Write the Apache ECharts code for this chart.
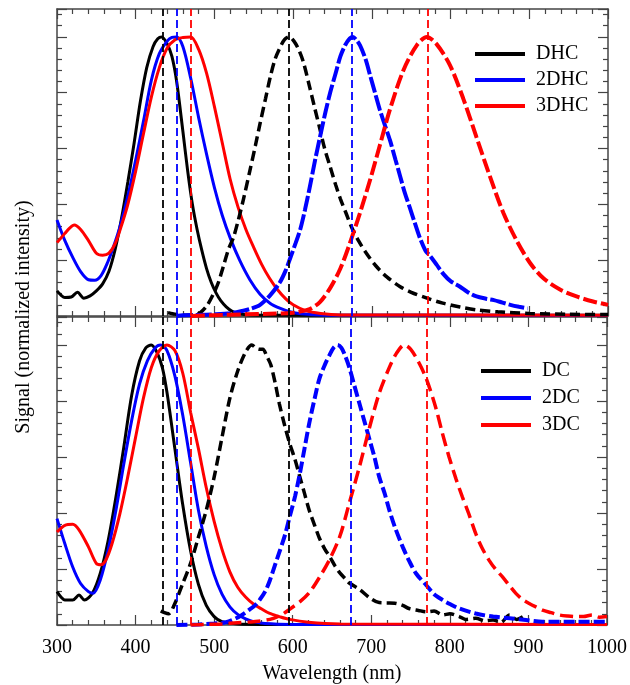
<!DOCTYPE html>
<html>
<head>
<meta charset="utf-8">
<script src="https://cdn.jsdelivr.net/npm/echarts@6/dist/echarts.min.js"></script>
<style>html,body{margin:0;padding:0;background:#fff}#c{width:630px;height:685px}</style>
</head>
<body>
<div id="c"></div>
<script>
// ---- axis ticks ----
const xTicks = [300, 400, 500, 600, 700, 800, 900, 1000];
// ---- vertical reference lines (nm) ----
const refLines = [434, 452, 470, 595, 674, 771];
const refColors = ['#000000', '#0000ff', '#ff0000', '#000000', '#0000ff', '#ff0000'];

// ---- TOP PANEL: absorption (solid) ----
const DHC_abs = [[300,0.09],[305,0.075],[310,0.066],[318,0.068],[326,0.085],[334,0.064],[342,0.072],[350,0.09],[358,0.115],[366,0.16],[374,0.24],[382,0.35],[390,0.48],[398,0.62],[406,0.77],[414,0.89],[422,0.965],[428,0.993],[433,1.0],[440,0.975],[446,0.93],[452,0.84],[460,0.66],[466,0.52],[472,0.4],[478,0.31],[484,0.235],[490,0.17],[496,0.12],[502,0.083],[508,0.055],[515,0.033],[522,0.018],[530,0.009],[545,0.004],[600,0.003],[800,0.003],[1000,0.003]];
const DHC2_abs = [[300,0.344],[310,0.27],[320,0.21],[330,0.159],[340,0.13],[348,0.128],[356,0.145],[364,0.19],[372,0.25],[380,0.32],[390,0.43],[400,0.56],[410,0.70],[420,0.846],[430,0.94],[440,0.985],[446,0.998],[452,1.0],[460,0.965],[470,0.85],[480,0.71],[490,0.58],[500,0.46],[510,0.36],[520,0.28],[532,0.2],[545,0.13],[558,0.078],[571,0.045],[583,0.028],[596,0.015],[610,0.008],[640,0.003],[1000,0.002]];
const DHC3_abs = [[300,0.263],[310,0.296],[316,0.315],[322,0.326],[330,0.31],[340,0.27],[350,0.225],[358,0.218],[366,0.225],[374,0.26],[382,0.325],[390,0.40],[400,0.52],[410,0.655],[420,0.786],[430,0.89],[440,0.96],[450,0.99],[460,0.998],[470,1.0],[480,0.955],[490,0.87],[500,0.75],[510,0.62],[520,0.49],[530,0.39],[540,0.31],[550,0.245],[560,0.185],[570,0.135],[580,0.095],[590,0.063],[600,0.04],[615,0.02],[635,0.009],[660,0.004],[1000,0.003]];

// ---- TOP PANEL: emission (dashed) ----
const DHC_em = [[441,0.012],[447,0.008],[460,0.003],[475,0.004],[482,0.012],[490,0.035],[498,0.075],[505,0.12],[511,0.175],[518,0.24],[524,0.28],[530,0.34],[537,0.42],[545,0.52],[552,0.61],[558,0.69],[565,0.78],[571,0.857],[577,0.92],[583,0.96],[589,0.99],[595,1.0],[601,0.985],[607,0.955],[613,0.91],[621,0.82],[627,0.75],[634,0.67],[640,0.6],[647,0.535],[654,0.47],[660,0.42],[667,0.37],[674,0.32],[683,0.27],[693,0.225],[705,0.18],[719,0.14],[736,0.105],[750,0.085],[770,0.064],[790,0.046],[812,0.032],[833,0.022],[860,0.015],[900,0.009],[950,0.006],[1000,0.005]];
const DHC2_em = [[452,0.0],[460,0.003],[480,0.004],[500,0.006],[520,0.01],[535,0.018],[545,0.025],[558,0.04],[571,0.075],[583,0.12],[590,0.16],[596,0.205],[603,0.26],[609,0.31],[615,0.38],[621,0.46],[628,0.56],[634,0.64],[641,0.73],[647,0.8],[654,0.87],[660,0.93],[666,0.97],[672,0.995],[676,1.0],[680,0.99],[685,0.97],[692,0.92],[698,0.86],[704,0.8],[710,0.74],[717,0.68],[723,0.63],[730,0.56],[736,0.5],[742,0.44],[748,0.39],[755,0.33],[761,0.28],[768,0.235],[774,0.215],[782,0.185],[791,0.15],[800,0.125],[812,0.105],[822,0.085],[833,0.07],[845,0.062],[855,0.057],[866,0.048],[876,0.04],[887,0.033],[898,0.027]];
const DHC3_em = [[470,0.0],[500,0.003],[540,0.006],[570,0.008],[600,0.012],[621,0.025],[634,0.05],[647,0.1],[660,0.17],[672,0.26],[685,0.37],[698,0.49],[710,0.61],[723,0.74],[740,0.88],[757,0.97],[770,1.0],[782,0.975],[799,0.9],[816,0.78],[833,0.64],[850,0.5],[867,0.37],[884,0.27],[901,0.19],[918,0.135],[939,0.095],[960,0.07],[981,0.052],[1000,0.04]];

// ---- BOTTOM PANEL: absorption (solid) ----
const DC_abs = [[300,0.119],[305,0.1],[310,0.089],[320,0.089],[328,0.107],[335,0.089],[345,0.113],[355,0.184],[365,0.30],[375,0.457],[385,0.635],[395,0.82],[405,0.943],[413,0.99],[420,1.0],[427,0.975],[434,0.92],[440,0.83],[450,0.63],[460,0.43],[470,0.265],[480,0.145],[490,0.07],[500,0.03],[510,0.012],[530,0.004],[600,0.002],[1000,0.002]];
const DC2_abs = [[300,0.38],[310,0.29],[320,0.207],[330,0.148],[340,0.119],[346,0.113],[355,0.16],[365,0.267],[375,0.41],[385,0.575],[395,0.73],[405,0.86],[415,0.943],[425,0.99],[432,1.0],[440,0.98],[450,0.89],[460,0.75],[470,0.58],[480,0.41],[490,0.28],[500,0.18],[510,0.11],[520,0.065],[530,0.038],[540,0.022],[550,0.012],[565,0.005],[600,0.002],[1000,0.002]];
const DC3_abs = [[300,0.332],[310,0.356],[320,0.36],[328,0.34],[340,0.279],[350,0.22],[356,0.215],[362,0.231],[370,0.29],[380,0.397],[390,0.528],[400,0.67],[410,0.81],[420,0.919],[430,0.979],[440,1.0],[450,0.98],[460,0.9],[470,0.76],[480,0.63],[490,0.49],[500,0.37],[510,0.27],[520,0.19],[530,0.135],[540,0.1],[550,0.075],[560,0.058],[570,0.042],[583,0.03],[596,0.02],[620,0.01],[660,0.004],[1000,0.002]];

// ---- BOTTOM PANEL: emission (dashed) ----
const DC_em = [[432,0.05],[436,0.045],[442,0.04],[450,0.077],[460,0.148],[470,0.22],[480,0.314],[490,0.41],[500,0.528],[510,0.67],[520,0.81],[530,0.907],[540,0.975],[548,1.0],[553,0.99],[557,0.985],[562,0.985],[567,0.96],[572,0.93],[578,0.86],[583,0.79],[590,0.71],[596,0.65],[603,0.59],[609,0.53],[615,0.47],[621,0.41],[628,0.355],[634,0.31],[641,0.27],[647,0.245],[654,0.21],[660,0.186],[667,0.165],[672,0.15],[685,0.127],[698,0.097],[710,0.08],[720,0.079],[730,0.078],[740,0.07],[748,0.059],[760,0.052],[770,0.047],[780,0.05],[791,0.036],[800,0.04],[812,0.03],[820,0.02],[833,0.024],[845,0.015],[855,0.018],[865,0.01],[876,0.036],[885,0.02],[893,0.03]];
const DC2_em = [[452,0.0],[480,0.002],[500,0.005],[515,0.01],[525,0.02],[535,0.035],[545,0.055],[552,0.07],[558,0.09],[565,0.12],[571,0.16],[577,0.21],[583,0.26],[590,0.32],[596,0.385],[603,0.46],[609,0.54],[615,0.63],[621,0.72],[628,0.81],[634,0.88],[641,0.93],[647,0.965],[652,0.99],[657,1.0],[662,0.99],[667,0.96],[672,0.92],[678,0.86],[685,0.79],[692,0.72],[698,0.66],[704,0.6],[710,0.53],[717,0.47],[723,0.41],[730,0.35],[740,0.279],[748,0.23],[757,0.184],[770,0.142],[780,0.11],[791,0.089],[800,0.075],[812,0.059],[833,0.041],[855,0.03],[876,0.024],[897,0.018],[918,0.012],[960,0.012],[1000,0.012]];
const DC3_em = [[470,0.0],[490,0.002],[510,0.004],[530,0.008],[550,0.012],[571,0.02],[585,0.035],[596,0.056],[610,0.085],[621,0.115],[634,0.17],[647,0.234],[660,0.317],[672,0.435],[685,0.566],[698,0.708],[710,0.827],[723,0.92],[732,0.97],[742,1.0],[750,0.985],[760,0.94],[770,0.88],[782,0.777],[790,0.69],[799,0.6],[808,0.52],[816,0.457],[825,0.39],[833,0.326],[841,0.275],[850,0.231],[858,0.2],[867,0.172],[876,0.14],[884,0.113],[893,0.09],[901,0.077],[910,0.064],[918,0.053],[929,0.044],[939,0.036],[950,0.032],[960,0.03],[970,0.03],[981,0.036],[990,0.028],[1000,0.03]];

const topNames = ['DHC', '2DHC', '3DHC'];
const botNames = ['DC', '2DC', '3DC'];
const colors = ['#000000', '#0000ff', '#ff0000'];

const FONT = '"Liberation Serif", "Times New Roman", serif';
const AX = '#444';

function xAx(grid, pos, labels) {
  return {
    type: 'value', gridIndex: grid, position: pos, min: xTicks[0], max: xTicks[xTicks.length - 1], interval: 100,
    axisLine: { show: true, onZero: false, lineStyle: { color: AX, width: 1.5 } },
    axisTick: { show: true, inside: true, length: 10, lineStyle: { color: AX, width: 1.2 } },
    minorTick: { show: true, splitNumber: 5, length: 5, lineStyle: { color: AX, width: 1.2 } },
    splitLine: { show: false }, minorSplitLine: { show: false },
    axisLabel: { show: labels, fontFamily: FONT, fontSize: 20, color: '#000', margin: 13, formatter: v => String(v) },
    name: labels ? 'Wavelength (nm)' : '', nameLocation: 'middle', nameGap: 39,
    nameTextStyle: { fontFamily: FONT, fontSize: 20, color: '#000' }
  };
}
function yAx(grid, pos) {
  return {
    type: 'value', gridIndex: grid, position: pos, min: 0, max: 1.1, interval: 0.2,
    axisLine: { show: true, onZero: false, lineStyle: { color: AX, width: 1.5 } },
    axisTick: { show: true, inside: true, length: 10, lineStyle: { color: AX, width: 1.2 } },
    minorTick: { show: true, splitNumber: 5, length: 5, lineStyle: { color: AX, width: 1.2 } },
    splitLine: { show: false }, minorSplitLine: { show: false },
    axisLabel: { show: false }
  };
}

function line(name, data, color, xi, yi, dash, width) {
  return {
    name: name, type: 'line', data: data, xAxisIndex: xi, yAxisIndex: yi,
    showSymbol: false, symbol: 'none', smooth: 0.3, color: color,
    lineStyle: { color: color, width: width, type: dash || 'solid' },
    animation: false, z: dash ? 3 : 2
  };
}

function refSeries(xi, yi) {
  return {
    type: 'line', data: [], xAxisIndex: xi, yAxisIndex: yi, animation: false, z: 5,
    markLine: {
      silent: true, symbol: 'none', animation: false, label: { show: false },
      data: refLines.map((v, i) => ({ xAxis: v, lineStyle: { color: refColors[i], width: 1.8, type: [8, 4] } }))
    }
  };
}

const series = [
  line('DHC', DHC_abs, colors[0], 0, 0, null, 3),
  line('2DHC', DHC2_abs, colors[1], 0, 0, null, 3),
  line('3DHC', DHC3_abs, colors[2], 0, 0, null, 3),
  line('DHC em', DHC_em, colors[0], 0, 0, [10, 5], 3.5),
  line('2DHC em', DHC2_em, colors[1], 0, 0, [16, 3], 4),
  line('3DHC em', DHC3_em, colors[2], 0, 0, [14, 4], 4),
  line('DC', DC_abs, colors[0], 2, 2, null, 3),
  line('2DC', DC2_abs, colors[1], 2, 2, null, 3),
  line('3DC', DC3_abs, colors[2], 2, 2, null, 3),
  line('DC em', DC_em, colors[0], 2, 2, [10, 5], 3.5),
  line('2DC em', DC2_em, colors[1], 2, 2, [11, 4], 4),
  line('3DC em', DC3_em, colors[2], 2, 2, [13, 6], 3.5),
  refSeries(0, 0),
  refSeries(2, 2)
];

const chart = echarts.init(document.getElementById('c'), null, { renderer: 'canvas' });
chart.setOption({
  backgroundColor: '#fff',
  animation: false,
  grid: [
    { left: 57, right: 22, top: 9, height: 307 },
    { left: 57, right: 22, top: 317, height: 308 }
  ],
  xAxis: [xAx(0, 'bottom', false), xAx(0, 'top', false), xAx(1, 'bottom', true), xAx(1, 'top', false)],
  yAxis: [yAx(0, 'left'), yAx(0, 'right'), yAx(1, 'left'), yAx(1, 'right')],
  legend: [
    { data: topNames.map(n => ({ name: n, icon: 'rect' })), orient: 'vertical', left: 475, top: 44, padding: 0, itemWidth: 50, itemHeight: 4, itemGap: 6,
      textStyle: { fontFamily: FONT, fontSize: 20, color: '#000', padding: [0, 0, 0, 6] }, selectedMode: false },
    { data: botNames.map(n => ({ name: n, icon: 'rect' })), orient: 'vertical', left: 481, top: 361, padding: 0, itemWidth: 50, itemHeight: 4, itemGap: 7,
      textStyle: { fontFamily: FONT, fontSize: 20, color: '#000', padding: [0, 0, 0, 6] }, selectedMode: false }
  ],
  graphic: [{
    type: 'text', x: 24, y: 317, rotation: Math.PI / 2,
    style: { text: 'Signal (normalized intensity)', font: '20px "Liberation Serif", "Times New Roman", serif', fill: '#000', align: 'center', verticalAlign: 'middle', textAlign: 'center', textVerticalAlign: 'middle' }
  }],
  series: series
});
</script>
</body>
</html>
